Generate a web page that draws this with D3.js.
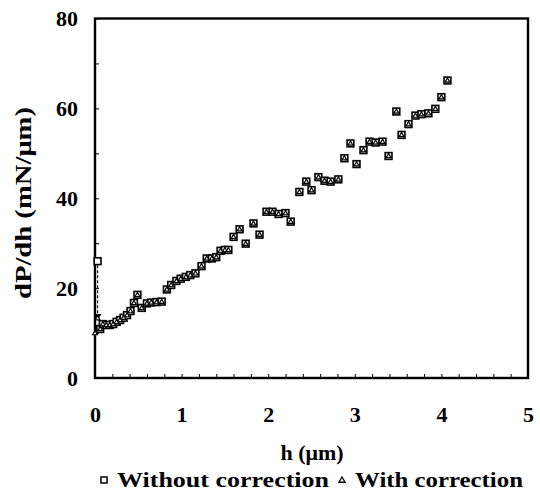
<!DOCTYPE html>
<html>
<head>
<meta charset="utf-8">
<script src="https://cdn.jsdelivr.net/npm/d3@7"></script>
<style>
  html, body { margin: 0; padding: 0; background: #fff; }
  svg text { font-family: "Liberation Serif", "Times New Roman", serif; font-weight: bold; fill: #000; }
</style>
</head>
<body>
<svg id="chart" width="540" height="498"></svg>
<script>
// Indentation depth h (µm)
const hValues = [0, 0.03,
  0.06, 0.09, 0.13, 0.17, 0.21, 0.25, 0.29, 0.33, 0.37, 0.41, 0.45, 0.49,
  0.54, 0.60, 0.65, 0.71, 0.77,
  0.83, 0.88, 0.94, 0.99, 1.05, 1.10, 1.16,
  1.23, 1.29, 1.35, 1.40, 1.45, 1.50, 1.54,
  1.60, 1.67, 1.74, 1.83, 1.90,
  1.98, 2.05, 2.12, 2.20, 2.26,
  2.36, 2.44, 2.50, 2.58, 2.65, 2.72, 2.81,
  2.88, 2.95, 3.02, 3.10, 3.17, 3.24, 3.32, 3.39,
  3.48, 3.54, 3.62, 3.70, 3.77, 3.85, 3.93, 4.00, 4.07];

// dP/dh (mN/µm) without correction (no reading at h = 0)
const withoutCorrection = [null, 26.0,
  10.9, 12.0, 11.8, 11.8, 12.0, 12.5, 12.9, 13.4, 14.0, 14.9, 16.7, 18.5,
  15.6, 16.6, 16.8, 16.9, 17.0,
  19.7, 20.7, 21.6, 22.1, 22.5, 22.9, 23.3,
  24.9, 26.6, 26.6, 26.9, 28.3, 28.5, 28.5,
  31.4, 33.1, 29.9, 34.4, 31.9,
  37.0, 37.0, 36.5, 36.7, 34.8,
  41.4, 43.7, 41.8, 44.7, 43.9, 43.7, 44.2,
  48.9, 52.2, 47.6, 50.7, 52.6, 52.4, 52.6, 49.4,
  59.3, 54.1, 56.5, 58.4, 58.7, 58.9, 59.9, 62.5, 66.2];

// dP/dh (mN/µm) with correction
const withCorrection = [10.0, 13.3,
  10.9, 12.0, 11.8, 11.8, 12.0, 12.5, 12.9, 13.4, 14.0, 14.9, 16.7, 18.5,
  15.6, 16.6, 16.8, 16.9, 17.0,
  19.7, 20.7, 21.6, 22.1, 22.5, 22.9, 23.3,
  24.9, 26.6, 26.6, 26.9, 28.3, 28.5, 28.5,
  31.4, 33.1, 29.9, 34.4, 31.9,
  37.0, 37.0, 36.5, 36.7, 34.8,
  41.4, 43.7, 41.8, 44.7, 43.9, 43.7, 44.2,
  48.9, 52.2, 47.6, 50.7, 52.6, 52.4, 52.6, 49.4,
  59.3, 54.1, 56.5, 58.4, 58.7, 58.9, 59.9, 62.5, 66.2];

const xTickLabels = [0, 1, 2, 3, 4, 5];
const yTickLabels = [0, 20, 40, 60, 80];
const seriesNames = ["Without correction", "With correction"];

const svg = d3.select("#chart");
const plot = { left: 95, right: 528, top: 18.5, bottom: 378 };

const x = d3.scaleLinear().domain([0, 5]).range([plot.left, plot.right]);
const y = d3.scaleLinear().domain([0, 80]).range([plot.bottom, plot.top]);

// Minor ticks along the bottom edge (every 0.2 µm), pointing inward
svg.append("g")
  .attr("transform", `translate(0,${plot.bottom})`)
  .call(d3.axisBottom(x).tickValues(d3.range(0, 5.001, 0.2)).tickSize(-4).tickFormat(""))
  .call(g => g.select(".domain").remove())
  .call(g => g.selectAll("line").attr("stroke", "#000").attr("stroke-width", 1));

// Minor ticks along the left edge (every 10), pointing inward
svg.append("g")
  .attr("transform", `translate(${plot.left},0)`)
  .call(d3.axisLeft(y).tickValues(d3.range(0, 80.001, 10)).tickSize(-4).tickFormat(""))
  .call(g => g.select(".domain").remove())
  .call(g => g.selectAll("line").attr("stroke", "#000").attr("stroke-width", 1));

// X tick labels
svg.append("g")
  .attr("transform", `translate(0,${plot.bottom})`)
  .call(d3.axisBottom(x).tickValues(xTickLabels).tickSize(0).tickPadding(28).tickFormat(d3.format("d")))
  .call(g => g.select(".domain").remove())
  .call(g => g.selectAll("text").attr("font-size", 22).attr("font-family", "Liberation Serif").attr("font-weight", "bold"));

// Y tick labels
svg.append("g")
  .attr("transform", `translate(${plot.left},0)`)
  .call(d3.axisLeft(y).tickValues(yTickLabels).tickSize(0).tickPadding(17).tickFormat(d3.format("d")))
  .call(g => g.select(".domain").remove())
  .call(g => g.selectAll("text").attr("font-size", 22).attr("font-family", "Liberation Serif").attr("font-weight", "bold"));

// Plot frame
svg.append("rect")
  .attr("x", plot.left).attr("y", plot.top)
  .attr("width", plot.right - plot.left).attr("height", plot.bottom - plot.top)
  .attr("fill", "none").attr("stroke", "#000").attr("stroke-width", 2.4);

const data = hValues.map((h, i) => ({ h, wo: withoutCorrection[i], w: withCorrection[i] }));

// Correction arrow for the first reading
const first = data[1];
svg.append("line")
  .attr("x1", x(first.h)).attr("x2", x(first.h))
  .attr("y1", y(first.wo) + 4).attr("y2", y(first.w) - 4)
  .attr("stroke", "#000").attr("stroke-width", 1.1).attr("stroke-dasharray", "3,2");
svg.append("path")
  .attr("d", d3.symbol(d3.symbolTriangle, 24)())
  .attr("transform", `translate(${x(first.h)},${y(first.w) - 2}) rotate(180)`)
  .attr("fill", "#000");

// Squares: without correction
svg.append("g").selectAll("rect")
  .data(data.filter(d => d.wo != null))
  .join("rect")
  .attr("x", d => x(d.h) - 3.4).attr("y", d => y(d.wo) - 3.4)
  .attr("width", 6.8).attr("height", 6.8)
  .attr("fill", "#fff").attr("stroke", "#000").attr("stroke-width", 1.6);

// Triangles: with correction
const tri = d3.symbol(d3.symbolTriangle, 10);
svg.append("g").selectAll("path")
  .data(data.filter(d => d.w != null))
  .join("path")
  .attr("d", tri())
  .attr("transform", d => `translate(${x(d.h)},${y(d.w) + 0.3})`)
  .attr("fill", "#fff").attr("stroke", "#000").attr("stroke-width", 1.2);

// Axis titles
svg.append("text")
  .attr("x", 312).attr("y", 460)
  .attr("text-anchor", "middle").attr("font-size", 22)
  .text("h (μm)");

svg.append("text")
  .attr("transform", "translate(31,203) rotate(-90)")
  .attr("text-anchor", "middle").attr("font-size", 23)
  .attr("textLength", 192).attr("lengthAdjust", "spacingAndGlyphs")
  .text("dP/dh (mN/μm)");

// Legend
const legendY = 487;
svg.append("rect")
  .attr("x", 101).attr("y", legendY - 10).attr("width", 6).attr("height", 6)
  .attr("fill", "#fff").attr("stroke", "#000").attr("stroke-width", 1.5);
svg.append("text").attr("x", 117).attr("y", legendY)
  .attr("font-size", 22)
  .attr("textLength", 212).attr("lengthAdjust", "spacingAndGlyphs")
  .text(seriesNames[0]);
svg.append("path")
  .attr("d", d3.symbol(d3.symbolTriangle, 16)())
  .attr("transform", `translate(342,${legendY - 6.5})`)
  .attr("fill", "#fff").attr("stroke", "#000").attr("stroke-width", 1.3);
svg.append("text").attr("x", 355).attr("y", legendY)
  .attr("font-size", 22)
  .attr("textLength", 168).attr("lengthAdjust", "spacingAndGlyphs")
  .text(seriesNames[1]);
</script>
</body>
</html>
